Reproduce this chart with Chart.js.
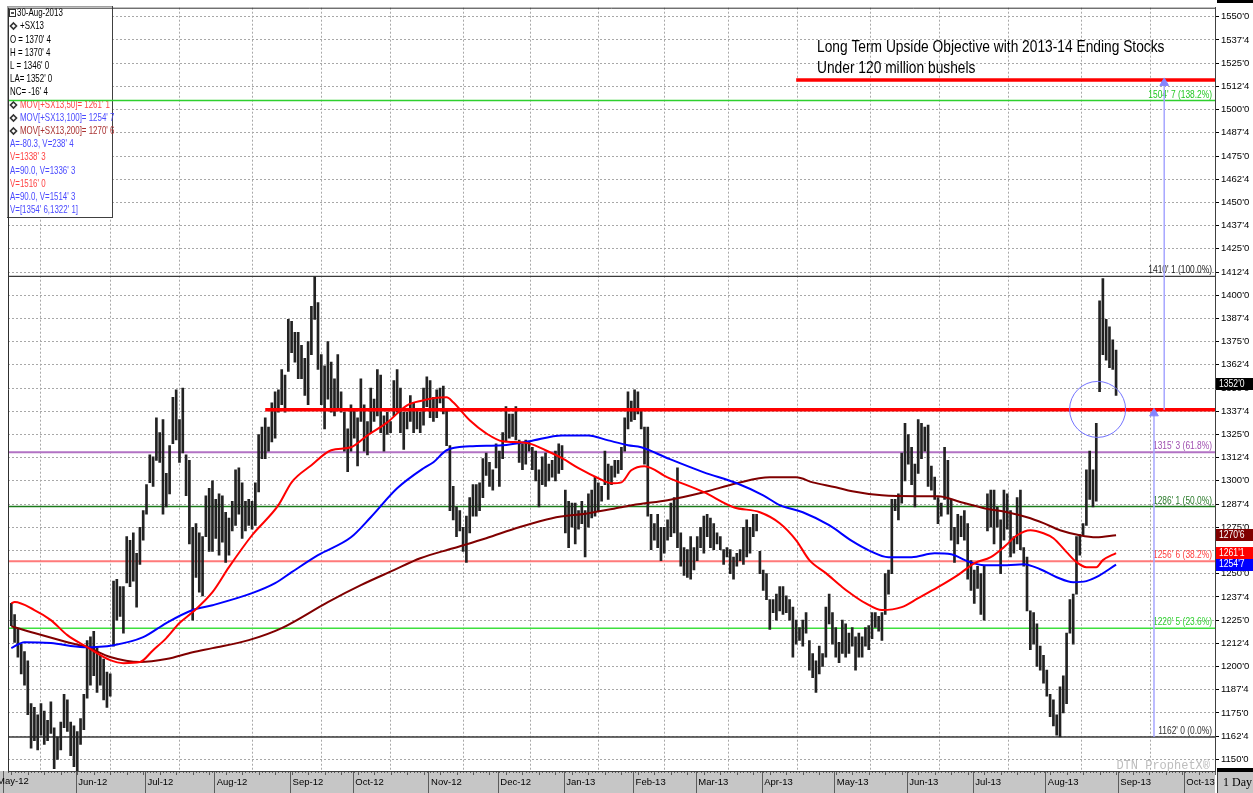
<!DOCTYPE html>
<html>
<head>
<meta charset="utf-8">
<title>+SX13 daily</title>
<script src="https://cdn.jsdelivr.net/npm/chart.js@4.4.1/dist/chart.umd.min.js"></script>
<style>
  html, body { margin: 0; padding: 0; background: #fff; overflow: hidden; }
  #wrap { position: relative; width: 1253px; height: 793px; }
</style>
</head>
<body>
<div id="wrap"><canvas id="chart"></canvas></div>
<script>
// Nov-13 soybeans (+SX13), daily bars.
// x = trading-day index (0 = first visible bar, 335 = 30-Aug-2013), prices in cents.
const highs = [
  1234,1228,1220,1212,1208,1203,1180,1178,1174,1180,
  1176,1171,1181,1167,1162,1170,1185,1182,1170,1168,
  1165,1172,1185,1214,1216,1219,1210,1206,1204,1197,
  1196,1246,1247,1243,1243,1270,1268,1272,1261,1275,
  1284,1298,1314,1313,1334,1326,1333,1304,1319,1345,
  1349,1333,1350,1314,1311,1275,1277,1272,1270,1292,
  1296,1300,1290,1293,1292,1283,1280,1289,1306,1307,
  1299,1289,1290,1289,1299,1325,1329,1334,1329,1342,
  1348,1349,1360,1357,1387,1386,1380,1380,1373,1366,
  1375,1394,1410.1,1396,1368,1362,1375,1364,1355,1368,
  1348,1337,1328,1341,1339,1334,1355,1341,1332,1350,
  1344,1360,1357,1335,1337,1332,1354,1360,1350,1337,
  1337,1346,1342,1339,1337,1350,1356,1354,1345,1349,
  1350,1351,1338,1319,1297,1286,1284,1275,1281,1291,
  1298,1298,1299,1312,1315,1310,1306,1320,1316,1326,
  1340,1336,1336,1340,1322,1320,1322,1321,1318,1316,
  1306,1313,1315,1309,1311,1316,1320,1319,1295,1289,
  1288,1288,1284,1289,1284,1293,1295,1302,1299,1297,
  1316,1309,1308,1311,1311,1318,1334,1348,1343,1349,
  1348,1338,1329,1329,1282,1277,1282,1275,1275,1279,
  1288,1291,1307,1272,1264,1263,1270,1264,1270,1275,
  1281,1282,1280,1277,1272,1270,1263,1264,1263,1259,
  1261,1263,1275,1279,1275,1282,1282,1262,1252,1250,
  1236,1236,1239,1243,1243,1238,1236,1232,1225,1221,
  1225,1229,1214,1207,1203,1211,1207,1232,1239,1229,
  1221,1213,1225,1223,1218,1221,1216,1218,1216,1221,
  1222,1229,1229,1227,1229,1250,1252,1290,1290,1293,
  1315,1331,1325,1318,1309,1333,1331,1329,1330,1308,
  1302,1291,1288,1318,1311,1290,1275,1282,1281,1284,
  1277,1257,1252,1254,1250,1254,1293,1295,1295,1286,
  1279,1295,1293,1284,1270,1291,1295,1264,1259,1230,
  1229,1223,1211,1206,1198,1185,1182,1174,1189,1195,
  1218,1236,1239,1270,1271,1277,1306,1316,1306,1331,
  1397,1409,1387,1383,1376,1370.5
];
const lows = [
  1222,1213,1205,1196,1190,1174,1156,1160,1155,1163,
  1158,1160,1164,1145,1150,1155,1167,1165,1152,1146,
  1143,1158,1166,1183,1190,1195,1186,1190,1182,1178,
  1184,1211,1225,1227,1218,1245,1243,1246,1232,1255,
  1268,1282,1299,1297,1311,1310,1282,1286,1293,1320,
  1322,1310,1315,1292,1266,1225,1248,1240,1238,1270,
  1262,1262,1269,1260,1267,1256,1260,1273,1276,1282,
  1269,1273,1276,1274,1276,1294,1312,1312,1316,1321,
  1323,1337,1341,1337,1359,1369,1364,1355,1355,1346,
  1341,1368,1387,1360,1341,1328,1344,1337,1335,1339,
  1337,1316,1305,1316,1323,1308,1332,1316,1314,1326,
  1332,1335,1326,1316,1325,1326,1335,1337,1326,1317,
  1328,1332,1326,1328,1326,1330,1340,1334,1332,1334,
  1342,1336,1319,1284,1279,1270,1273,1262,1256,1272,
  1281,1281,1284,1291,1303,1297,1295,1307,1297,1312,
  1321,1323,1324,1322,1310,1306,1309,1316,1306,1300,
  1286,1298,1297,1300,1302,1300,1304,1306,1272,1264,
  1275,1266,1274,1277,1259,1275,1280,1281,1284,1289,
  1298,1290,1298,1302,1304,1306,1316,1328,1332,1333,
  1336,1328,1309,1281,1263,1268,1264,1257,1261,1268,
  1270,1272,1264,1254,1249,1248,1247,1252,1257,1264,
  1261,1270,1264,1263,1266,1263,1255,1259,1250,1247,
  1254,1257,1255,1259,1261,1270,1273,1250,1241,1236,
  1220,1229,1225,1230,1228,1229,1225,1205,1212,1214,
  1211,1218,1198,1194,1186,1196,1200,1205,1223,1212,
  1205,1202,1207,1205,1207,1211,1198,1205,1205,1211,
  1209,1215,1221,1219,1214,1228,1239,1250,1284,1279,
  1288,1300,1309,1298,1286,1304,1312,1316,1297,1295,
  1290,1277,1281,1290,1282,1268,1256,1266,1270,1268,
  1247,1241,1234,1242,1228,1225,1273,1275,1266,1275,
  1250,1268,1274,1259,1261,1266,1263,1254,1230,1209,
  1212,1200,1198,1191,1184,1173,1168,1163,1162,1175,
  1180,1218,1212,1239,1260,1271,1276,1290,1286,1289,
  1348,1368,1365,1361,1360,1346
];
const lastPrice = 1352.0;

// moving averages, sampled where they were read
const ma50Idx = [0,1,7,12,17,23,30,34,39,43,47,51,55,61,66,73,81,85,91,97,
  103,108,114,120,125,128,132,134,139,144,149,154,157,162,167,172,178,182,185,188,
  192,199,210,219,227,233,238,242,247,252,254,259,264,270,275,281,287,292,297,301,
  305,309,313,316,320,323,326,329,331,335];
const ma50 = [1234.0,1234.7,1230.4,1225.0,1216.9,1210.4,1203.4,1201.8,1202.4,1208.8,
  1215.3,1223.4,1229.3,1240.0,1253.5,1270.7,1286.9,1299.2,1308.4,1316.5,
  1318.1,1324.5,1331.5,1340.7,1343.4,1344.5,1345.0,1342.3,1332.6,1325.6,
  1321.3,1320.8,1320.2,1316.5,1312.2,1306.8,1301.4,1298.7,1299.2,1305.7,
  1307.9,1301.9,1293.9,1285.8,1283.1,1277.2,1268.0,1257.3,1250.3,1242.7,
  1240.0,1234.1,1230.4,1232.0,1236.8,1242.7,1249.2,1255.6,1258.9,1264.3,
  1270.7,1273.4,1271.8,1269.1,1261.6,1256.2,1253.5,1253.5,1257.3,1261.125];
const ma100Idx = [0,4,12,22,31,40,47,55,61,73,80,85,93,103,109,117,125,128,132,139,
  149,157,167,175,181,187,191,199,210,220,228,233,240,248,255,260,266,273,280,285,
  290,295,302,307,312,317,322,326,329,335];
const ma100 = [1209.9,1213.1,1212.6,1210.4,1211.5,1215.8,1223.4,1230.4,1233.0,1239.5,
  1244.9,1250.8,1260.0,1269.6,1280.4,1296.0,1306.8,1310.0,1316.5,1318.6,
  1319.2,1321.3,1324.5,1324.5,1321.8,1319.2,1318.1,1312.2,1304.6,1298.7,
  1292.2,1286.9,1283.1,1276.1,1267.5,1262.6,1258.9,1258.9,1261.0,1260.5,
  1256.7,1254.6,1254.6,1255.1,1252.4,1248.1,1245.4,1246.0,1248.1,1254.875];
const ma200Idx = [0,7,17,23,30,39,47,55,61,72,82,96,106,116,124,134,144,154,164,175,
  185,190,199,210,220,230,238,243,250,255,264,275,281,288,295,302,308,313,318,324,
  329,335];
const ma200 = [1221.7,1218.0,1213.1,1210.4,1205.1,1202.4,1204.0,1207.7,1209.9,1214.2,
  1220.7,1234.7,1243.8,1251.9,1258.3,1263.7,1269.1,1275.0,1279.9,1282.6,
  1285.8,1287.4,1289.6,1293.9,1298.7,1301.9,1301.9,1299.2,1296.6,1294.4,
  1292.2,1291.7,1291.7,1288.5,1285.3,1283.1,1280.4,1277.2,1273.4,1270.7,
  1269.6,1270.75];

// month separators (index just before the first session of the month)
const monthTicks = [-2.5,19.5,40.5,61.5,84.5,103.5,126.5,147.5,167.5,188.5,
  207.5,227.5,249.5,271.5,291.5,313.5,335.5,355.5];
const monthLabels = ['May-12','Jun-12','Jul-12','Aug-12','Sep-12','Oct-12','Nov-12','Dec-12','Jan-13',
  'Feb-13','Mar-13','Apr-13','May-13','Jun-13','Jul-13','Aug-13','Sep-13','Oct-13'];

// retracement / projection levels
const fibLevels = [1504.875, 1410.125, 1315.375, 1286.125, 1256.75, 1220.625, 1162.0];
const fibPct = ['138.2%', '100.0%', '61.8%', '50.0%', '38.2%', '23.6%', '0.0%'];

// drawn studies
const targetLevels = [1338.375, 1516.0];
const targetFrom = [77, 238];
const arrowIdx = [346.5, 349.6];
const arrowFrom = [1162.0, 1338.375];
const arrowTo = [1336.375, 1514.375];
const circleIdx = [329.4];
const circlePrice = [1338.5];

const legendText = ['30-Aug-2013', '+SX13', "O = 1370' 4", "H = 1370' 4", "L = 1346' 0",
  "LA= 1352' 0", "NC= -16' 4", "MOV[+SX13,50]= 1261' 1", "MOV[+SX13,100]= 1254' 7",
  "MOV[+SX13,200]= 1270' 6", "A=-80.3, V=238' 4", "V=1338' 3", "A=90.0, V=1336' 3",
  "V=1516' 0", "A=90.0, V=1514' 3", "V=[1354' 6,1322' 1]"];

// ---- styling ----
const SANS = "'Liberation Sans', Arial, sans-serif";
const MONO = "'Liberation Mono', 'DejaVu Sans Mono', monospace";
const SERIF = "'Liberation Serif', 'DejaVu Serif', serif";
const NARROW_X = 0.8;   // horizontal squeeze to mimic the narrow chart font
const X_MIN = -1, X_MAX = 365;
const Y_MIN = 1143.7, Y_MAX = 1554.9;
const fibColors = ['#2ed02e', '#3a3a3a', '#b272c4', '#1a7a1a', '#ff7a7a', '#3ee03e', '#3a3a3a'];
const fibWidths = [1.5, 1.2, 2, 1.5, 2, 1.5, 1.5];
const fibTextColors = ['#22c822', '#202020', '#a050b0', '#2a7a2a', '#ff4040', '#30d030', '#303030'];
const legendColor = ['#000','#000','#000','#000','#000','#000','#000','#ff4444','#4a4aff','#a83030',
  '#4a4aff','#ff4444','#4a4aff','#ff4444','#4a4aff','#4a4aff'];
const legendIcon = ['box','dot','','','','','','dot','dot','dot','','','','','',''];

Chart.defaults.font.family = SANS;

function fmtPrice(v, spaced) {
  const whole = Math.floor(v + 1e-6);
  const eighths = Math.round((v - whole) * 8);
  return whole + "'" + (spaced ? ' ' : '') + eighths;
}

// canvas text squeezed horizontally
function narrowText(ctx, text, x, y, sx, align) {
  ctx.save();
  ctx.translate(x, y);
  ctx.scale(sx, 1);
  ctx.textAlign = align || 'left';
  ctx.fillText(text, 0, 0);
  ctx.restore();
}

const pairs = (xs, ys) => xs.map((x, i) => ({ x: x, y: ys[i] }));

function line(data, color, width, order, extra) {
  return Object.assign({
    type: 'line', data: data, borderColor: color, borderWidth: width,
    pointRadius: 0, fill: false, tension: 0, order: order
  }, extra || {});
}

const datasets = [];
fibLevels.forEach((v, i) => {
  datasets.push(line([{ x: X_MIN, y: v }, { x: X_MAX, y: v }], fibColors[i], fibWidths[i], 20));
});
datasets.push({
  type: 'bar',
  data: highs.map((h, i) => ({ x: i, y: [lows[i], h] })),
  backgroundColor: '#222222',
  barThickness: 2,
  grouped: false,
  order: 10
});
datasets.push(line(pairs(ma200Idx, ma200), '#800000', 2, 5, { cubicInterpolationMode: 'monotone' }));
datasets.push(line(pairs(ma100Idx, ma100), '#0000ff', 2, 4, { cubicInterpolationMode: 'monotone' }));
datasets.push(line(pairs(ma50Idx, ma50), '#ff0000', 2, 3, { cubicInterpolationMode: 'monotone' }));
targetLevels.forEach((v, i) => {
  datasets.push(line([{ x: targetFrom[i], y: v }, { x: X_MAX, y: v }], '#ff0000', 3.5, 2));
});
arrowIdx.forEach((ax, i) => {
  datasets.push(line([{ x: ax, y: arrowFrom[i] }, { x: ax, y: arrowTo[i] }], '#a6a6ff', 1.5, 1, {
    pointRadius: [0, 5], pointStyle: 'triangle',
    pointBackgroundColor: '#8484ff', pointBorderColor: '#8484ff', pointBorderWidth: 1
  }));
});
datasets.push(line(pairs(circleIdx, circlePrice), 'rgba(0,0,0,0)', 0, 0, {
  showLine: false, pointRadius: 28, pointStyle: 'circle',
  pointBorderColor: '#7474ff', pointBorderWidth: 1, pointBackgroundColor: 'rgba(0,0,0,0)'
}));

function drawLegendBox(ctx) {
  const x0 = 7, y0 = 6, w = 106, h = 212;
  ctx.save();
  ctx.fillStyle = '#ffffff';
  ctx.fillRect(x0, y0, w, h);
  ctx.lineWidth = 1;
  ctx.strokeStyle = '#a0a0a0';
  ctx.strokeRect(x0 + 0.5, y0 + 0.5, w - 1, h - 1);
  ctx.strokeStyle = '#404040';
  ctx.beginPath();
  ctx.moveTo(x0 + w - 0.5, y0); ctx.lineTo(x0 + w - 0.5, y0 + h);
  ctx.moveTo(x0, y0 + h - 0.5); ctx.lineTo(x0 + w, y0 + h - 0.5);
  ctx.stroke();

  ctx.font = '11px ' + SANS;
  ctx.textBaseline = 'middle';
  legendText.forEach((t, i) => {
    const y = Math.round(13.3 + i * 13.1);
    let tx = 10;
    if (legendIcon[i] === 'box') {
      ctx.strokeStyle = '#333';
      ctx.strokeRect(9.5, y - 3.5, 6, 7);
      ctx.fillStyle = '#555';
      ctx.fillRect(11, y - 1, 3, 2);
      tx = 17;
    } else if (legendIcon[i] === 'dot') {
      ctx.strokeStyle = '#333';
      ctx.lineWidth = 1.6;
      ctx.beginPath();
      ctx.moveTo(13.5, y - 3); ctx.lineTo(16.5, y); ctx.lineTo(13.5, y + 3); ctx.lineTo(10.5, y);
      ctx.closePath();
      ctx.stroke();
      ctx.lineWidth = 1;
      tx = 20;
    }
    ctx.fillStyle = legendColor[i];
    narrowText(ctx, t, tx, y, 0.72);
  });
  ctx.restore();
}

const chartDecor = {
  id: 'chartDecor',
  beforeDraw(chart) {
    const { ctx, chartArea: a, width, height } = chart;
    const xs = chart.scales.x;
    ctx.save();
    ctx.fillStyle = '#ffffff';
    ctx.fillRect(0, 0, width, height);

    // date strip under the plot
    ctx.fillStyle = '#c6c6c6';
    ctx.fillRect(0, a.bottom, a.right, height - a.bottom);
    ctx.strokeStyle = '#5c5c5c';
    ctx.lineWidth = 1;
    ctx.beginPath();
    for (let i = Math.ceil(X_MIN); i <= X_MAX; i++) {
      const px = Math.round(xs.getPixelForValue(i)) + 0.5;
      ctx.moveTo(px, a.bottom);
      ctx.lineTo(px, a.bottom + (i % 5 === 0 ? 4 : 2));
    }
    monthTicks.forEach(v => {
      const px = Math.round(xs.getPixelForValue(v)) + 0.5;
      ctx.moveTo(px, a.bottom);
      ctx.lineTo(px, height);
    });
    ctx.stroke();

    // months that start left of the plot (cut by the canvas edge as in the source)
    ctx.fillStyle = '#000';
    ctx.font = '9.5px ' + SANS;
    ctx.textBaseline = 'top';
    monthTicks.forEach((v, i) => {
      if (v < X_MIN) ctx.fillText(monthLabels[i], xs.getPixelForValue(v) - 6, a.bottom + 6);
    });

    // interval box in the corner
    ctx.fillStyle = '#c6c6c6';
    ctx.fillRect(a.right + 2, a.bottom, width - a.right - 2, height - a.bottom);
    ctx.strokeStyle = '#404040';
    ctx.beginPath();
    ctx.moveTo(a.right + 2.5, a.bottom);
    ctx.lineTo(a.right + 2.5, height);
    ctx.stroke();
    ctx.fillStyle = '#000';
    ctx.font = '12px ' + SERIF;
    ctx.textBaseline = 'middle';
    ctx.fillText('1 Day', a.right + 8, a.bottom + 12);
    ctx.restore();
  },
  beforeDatasetsDraw(chart) {
    const { ctx, chartArea: a } = chart;
    const ys = chart.scales.y;
    drawLegendBox(ctx);
    ctx.save();
    ctx.font = '10.5px ' + SANS;
    ctx.textBaseline = 'alphabetic';
    fibLevels.forEach((v, i) => {
      ctx.fillStyle = fibTextColors[i];
      narrowText(ctx, fmtPrice(v, true) + ' (' + fibPct[i] + ')', a.right - 3,
        ys.getPixelForValue(v) - 3, NARROW_X, 'right');
    });
    ctx.restore();
  },
  afterDatasetsDraw(chart) {
    const { ctx, chartArea: a } = chart;
    ctx.save();
    // plot frame (top and left)
    ctx.strokeStyle = '#303030';
    ctx.lineWidth = 1;
    ctx.beginPath();
    ctx.moveTo(a.left, a.top + 0.5); ctx.lineTo(a.right, a.top + 0.5);
    ctx.moveTo(a.left + 0.5, a.top); ctx.lineTo(a.left + 0.5, a.bottom);
    ctx.stroke();

    // note on the upside objective
    ctx.fillStyle = '#000';
    ctx.font = '17px ' + SANS;
    ctx.textBaseline = 'alphabetic';
    narrowText(ctx, 'Long Term Upside Objective with 2013-14 Ending Stocks', 817, 52, 0.81);
    narrowText(ctx, 'Under 120 million bushels', 817, 73, 0.81);

    // vendor mark
    ctx.fillStyle = '#bdbdbd';
    ctx.font = '12px ' + MONO;
    ctx.textAlign = 'right';
    ctx.fillText('DTN ProphetX\u00AE', a.right - 5, a.bottom - 2);
    ctx.restore();
  },
  afterDraw(chart) {
    const { ctx, chartArea: a, width } = chart;
    const ys = chart.scales.y;
    ctx.save();
    const boxes = [
      [ma200[ma200.length - 1], '#800000'],
      [ma50[ma50.length - 1], '#ff0000'],
      [ma100[ma100.length - 1], '#0000ff'],
      [lastPrice, '#000000']
    ];
    ctx.font = '10px ' + SANS;
    ctx.textBaseline = 'middle';
    boxes.forEach(([v, c]) => {
      const py = ys.getPixelForValue(v);
      ctx.fillStyle = c;
      ctx.fillRect(a.right + 1, Math.round(py - 6), width - a.right - 1, 12);
      ctx.fillStyle = '#ffffff';
      narrowText(ctx, fmtPrice(v, false), a.right + 4, py, 0.86);
    });
    ctx.fillStyle = '#000';
    ctx.fillRect(a.right + 2, 0, width - a.right - 2, 3);
    ctx.fillRect(a.right + 2, a.bottom - 3, width - a.right - 2, 4);
    ctx.restore();
  }
};

new Chart(document.getElementById('chart'), {
  type: 'line',
  data: { datasets: datasets },
  options: {
    responsive: true,
    maintainAspectRatio: false,
    animation: false,
    events: [],
    layout: { autoPadding: false, padding: { left: 8, top: 7, right: 0, bottom: 0 } },
    plugins: { legend: { display: false }, tooltip: { enabled: false } },
    scales: {
      x: {
        type: 'linear',
        min: X_MIN,
        max: X_MAX,
        offset: false,
        afterFit: s => { s.height = 22; },
        afterBuildTicks: s => {
          s.ticks = monthTicks.filter(v => v > X_MIN).map(v => ({ value: v }));
        },
        ticks: {
          autoSkip: false, maxRotation: 0, minRotation: 0, align: 'start', padding: 6,
          color: '#000', font: { size: 9.5, family: SANS },
          callback: v => ' ' + monthLabels[monthTicks.indexOf(v)]
        },
        grid: { color: '#a8a8a8', lineWidth: 1, drawTicks: false },
        border: { color: '#404040', dash: [2, 2] }
      },
      y: {
        type: 'linear',
        position: 'right',
        min: Y_MIN,
        max: Y_MAX,
        afterFit: s => { s.width = 38; },
        ticks: {
          stepSize: 12.5, includeBounds: false, autoSkip: false, padding: 2,
          color: '#000', font: { size: 9.5, family: SANS },
          callback: v => fmtPrice(v, false)
        },
        grid: { color: '#a8a8a8', lineWidth: 1, tickLength: 4, tickColor: '#000', tickBorderDash: [] },
        border: { color: '#404040', dash: [2, 2] }
      }
    }
  },
  plugins: [chartDecor]
});
</script>
</body>
</html>
